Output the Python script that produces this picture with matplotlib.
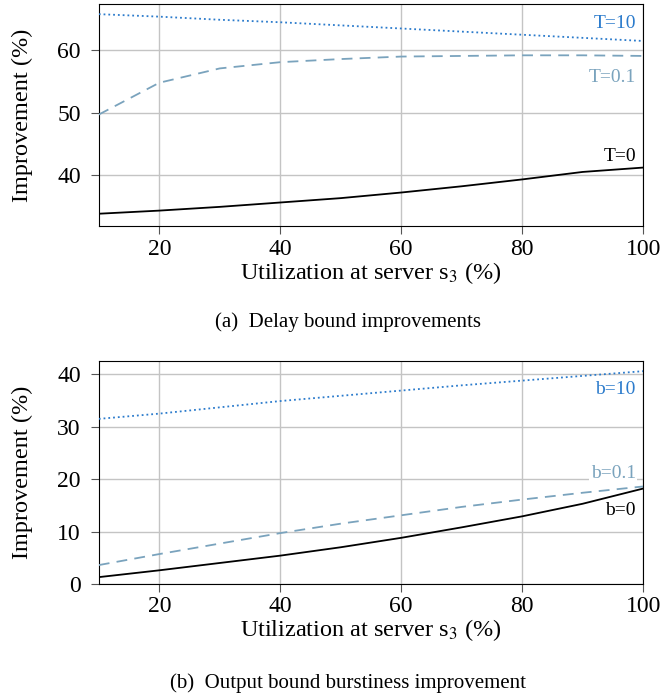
import matplotlib.pyplot as plt

plt.rcParams['font.family'] = ['Liberation Serif', 'DejaVu Serif']
plt.rcParams['mathtext.fontset'] = 'stix'

# utilization at server s3 (%)
utilizacion = [10, 20, 30, 40, 50, 60, 70, 80, 90, 100]

# (a) delay bound improvement (%)
delay_t10 = [65.8, 65.4, 64.9, 64.5, 64.0, 63.5, 63.0, 62.5, 62.0, 61.5]
delay_t01 = [49.7, 54.8, 57.1, 58.1, 58.6, 59.0, 59.1, 59.2, 59.2, 59.1]
delay_t0 = [33.8, 34.3, 34.9, 35.6, 36.3, 37.2, 38.2, 39.3, 40.5, 41.2]

# (b) output burstiness improvement (%)
burst_b10 = [31.5, 32.5, 33.7, 34.9, 35.9, 36.9, 37.9, 38.8, 39.7, 40.6]
burst_b01 = [3.6, 5.7, 7.7, 9.7, 11.5, 13.1, 14.7, 16.1, 17.4, 18.6]
burst_b0 = [1.3, 2.6, 4.0, 5.4, 7.0, 8.8, 10.8, 12.9, 15.3, 18.2]

azul = '#2b7bcc'
gris_azul = '#7aa3bd'

fig = plt.figure(figsize=(6.63, 6.96), dpi=100)
ax1 = fig.add_axes([0.149, 0.675, 0.821, 0.319])
ax2 = fig.add_axes([0.149, 0.161, 0.821, 0.320])


def dibujar(ax, series, etiquetas, pos_etiquetas, ylim, yticks):
    estilos = [(azul, ':'), (gris_azul, (0, (6, 4))), ('black', '-')]
    for ys, (color, ls), txt, yt in zip(series, estilos, etiquetas, pos_etiquetas):
        ax.plot(utilizacion, ys, color=color, linestyle=ls, lw=1.3, zorder=3)
        ax.text(98.8, yt, txt, color=color, ha='right', va='center', fontsize=14,
                bbox=dict(facecolor='white', edgecolor='none', pad=1), zorder=4)
    ax.set_xlim(10, 100)
    ax.set_ylim(*ylim)
    ax.set_xticks([20, 40, 60, 80, 100])
    ax.set_yticks(yticks)
    ax.grid(True, color='#c4c4c4', lw=1)
    ax.set_axisbelow(True)
    ax.tick_params(labelsize=17, direction='out', length=6, color='#555555')
    ax.tick_params(axis='x', pad=3)
    ax.tick_params(axis='y', pad=7)
    ax.set_xlabel('Utilization at server s$_3$ (%)', fontsize=17.5, labelpad=0)
    ax.set_ylabel('Improvement (%)', fontsize=17.5, labelpad=17)


dibujar(ax1, [delay_t10, delay_t01, delay_t0], ['T=10', 'T=0.1', 'T=0'],
        [64.3, 55.7, 42.9], (31.8, 67.4), [40, 50, 60])
dibujar(ax2, [burst_b10, burst_b01, burst_b0], ['b=10', 'b=0.1', 'b=0'],
        [37.1, 21.0, 14.0], (0, 42.5), [0, 10, 20, 30, 40])

fig.text(0.525, 0.537, '(a)  Delay bound improvements', ha='center', va='center', fontsize=15)
fig.text(0.525, 0.019, '(b)  Output bound burstiness improvement', ha='center', va='center', fontsize=15)

fig.savefig('out.png', dpi=100)
